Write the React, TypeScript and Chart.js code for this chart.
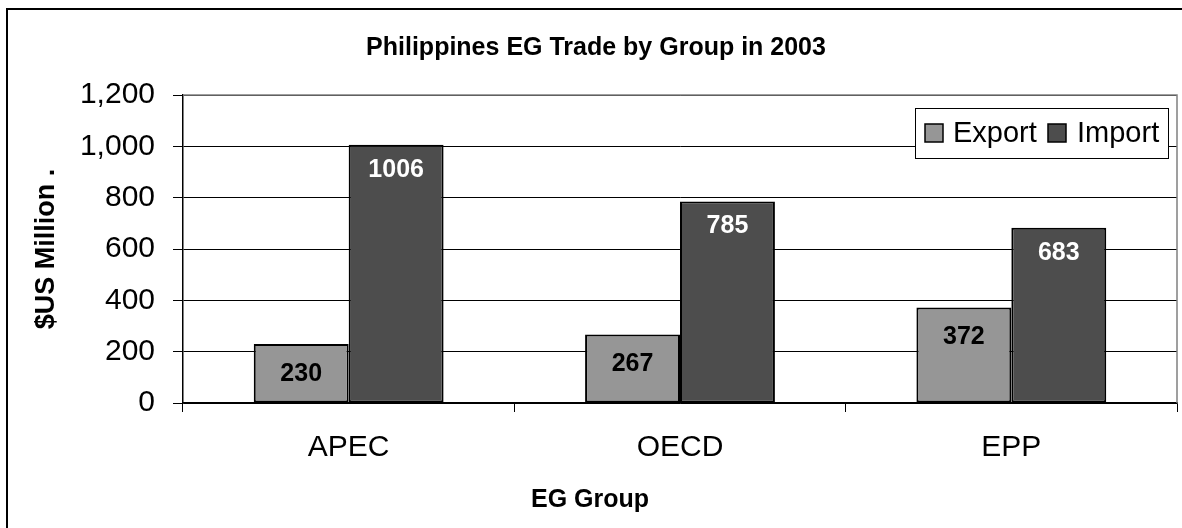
import React, { useEffect, useRef } from "react";
import { Chart, registerables } from "chart.js";

Chart.register(...registerables);

const categories = ["APEC", "OECD", "EPP"];
const exportValues = [230, 267, 372];
const importValues = [1006, 785, 683];
const seriesNames = ["Export", "Import"];
const chartTitle = "Philippines EG Trade by Group in 2003";
const xTitle = "EG Group";
const yTitle = "$US Million .";
const yMin = 0;
const yMax = 1200;
const yStep = 200;

const EXPORT_COLOR = "#969696";
const IMPORT_COLOR = "#4d4d4d";
const FONT = "Arial, 'Liberation Sans', Helvetica, sans-serif";

const W = 1182;
const H = 528;
const PLOT_LEFT = 183;
const PLOT_RIGHT = 1177;
const PLOT_TOP = 95;
const PLOT_BOTTOM = 403;

const decorPlugin = {
  id: "decor",
  beforeDraw(chart: any) {
    const ctx = chart.ctx;
    ctx.save();
    ctx.fillStyle = "#ffffff";
    ctx.fillRect(0, 0, chart.width, chart.height);
    ctx.strokeStyle = "#000000";
    ctx.lineWidth = 2;
    ctx.strokeRect(7, 9, chart.width + 20, chart.height + 20);
    ctx.restore();
  },
  afterDraw(chart: any) {
    const ctx = chart.ctx;
    const area = chart.chartArea;
    ctx.save();
    // plot border top/right
    ctx.strokeStyle = "#808080";
    ctx.lineWidth = 1.5;
    ctx.beginPath();
    ctx.moveTo(area.left, area.top);
    ctx.lineTo(area.right, area.top);
    ctx.lineTo(area.right, area.bottom);
    ctx.stroke();

    // title
    ctx.fillStyle = "#000";
    ctx.textAlign = "center";
    ctx.textBaseline = "middle";
    ctx.font = `bold 25px ${FONT}`;
    ctx.fillText(chartTitle, 596, 48);
    // x title
    ctx.fillText(xTitle, 590, 500);
    // y title
    ctx.save();
    ctx.font = `bold 27px ${FONT}`;
    ctx.translate(47, 249);
    ctx.rotate(-Math.PI / 2);
    ctx.fillText(yTitle, 0, 0);
    ctx.restore();

    // bar labels
    ctx.font = `bold 25px ${FONT}`;
    chart.data.datasets.forEach((ds: any, di: number) => {
      const meta = chart.getDatasetMeta(di);
      meta.data.forEach((bar: any, i: number) => {
        const v = ds.data[i];
        ctx.fillStyle = di === 0 ? "#000" : "#fff";
        const off = di === 0 ? 30 : 25;
        ctx.fillText(String(v), bar.x, bar.y + off);
      });
    });

    // legend
    const lx = 915, ly = 108, lw = 253, lh = 50;
    ctx.fillStyle = "#fff";
    ctx.fillRect(lx, ly, lw, lh);
    ctx.strokeStyle = "#000";
    ctx.lineWidth = 1;
    ctx.strokeRect(lx + 0.5, ly + 0.5, lw, lh);
    const cy = 133;
    const items = [
      { sx: 925, tx: 953, color: EXPORT_COLOR, label: seriesNames[0] },
      { sx: 1048, tx: 1077, color: IMPORT_COLOR, label: seriesNames[1] },
    ];
    ctx.font = `29px ${FONT}`;
    ctx.textAlign = "left";
    items.forEach((it) => {
      ctx.fillStyle = it.color;
      ctx.fillRect(it.sx, cy - 9, 18, 18);
      ctx.strokeStyle = "#000";
      ctx.lineWidth = 1.5;
      ctx.strokeRect(it.sx, cy - 9, 18, 18);
      ctx.fillStyle = "#000";
      ctx.fillText(it.label, it.tx, cy + 1);
    });
    ctx.restore();
  },
};

export default function App() {
  const canvasRef = useRef<HTMLCanvasElement | null>(null);

  useEffect(() => {
    document.body.style.margin = "0";
    const canvas = canvasRef.current;
    if (!canvas) return;
    const chart = new Chart(canvas, {
      type: "bar",
      data: {
        labels: categories,
        datasets: [
          {
            label: seriesNames[0],
            data: exportValues,
            backgroundColor: EXPORT_COLOR,
            borderColor: "#000",
            borderWidth: 2,
            borderSkipped: false,
            categoryPercentage: 0.573,
            barPercentage: 1,
          },
          {
            label: seriesNames[1],
            data: importValues,
            backgroundColor: IMPORT_COLOR,
            borderColor: "#000",
            borderWidth: 2,
            borderSkipped: false,
            categoryPercentage: 0.573,
            barPercentage: 1,
          },
        ],
      },
      options: {
        responsive: false,
        animation: false,
        devicePixelRatio: 1,
        layout: {
          padding: { left: 0, right: W - PLOT_RIGHT, top: PLOT_TOP, bottom: 0 },
        },
        plugins: {
          legend: { display: false },
          title: { display: false },
          tooltip: { enabled: false },
        },
        scales: {
          x: {
            grid: {
              display: true,
              drawOnChartArea: false,
              drawTicks: true,
              tickLength: 9,
              color: "#000",
              lineWidth: 1,
            },
            border: { display: true, color: "#000", width: 1.5 },
            ticks: {
              color: "#000",
              font: { family: FONT, size: 30 },
              padding: 18,
              maxRotation: 0,
            },
            afterFit: (scale: any) => {
              scale.height = H - PLOT_BOTTOM;
            },
          },
          y: {
            min: yMin,
            max: yMax,
            grid: {
              color: "#000",
              lineWidth: 1,
              drawTicks: true,
              tickLength: 10,
            },
            border: { display: true, color: "#000", width: 1.5 },
            ticks: {
              stepSize: yStep,
              color: "#000",
              font: { family: FONT, size: 30 },
              padding: 18,
            },
            afterFit: (scale: any) => {
              scale.width = PLOT_LEFT;
            },
          },
        },
      },
      plugins: [decorPlugin],
    });
    return () => chart.destroy();
  }, []);

  return (
    <div style={{ width: W, height: H, margin: 0, padding: 0 }}>
      <canvas ref={canvasRef} width={W} height={H} style={{ display: "block" }} />
    </div>
  );
}
